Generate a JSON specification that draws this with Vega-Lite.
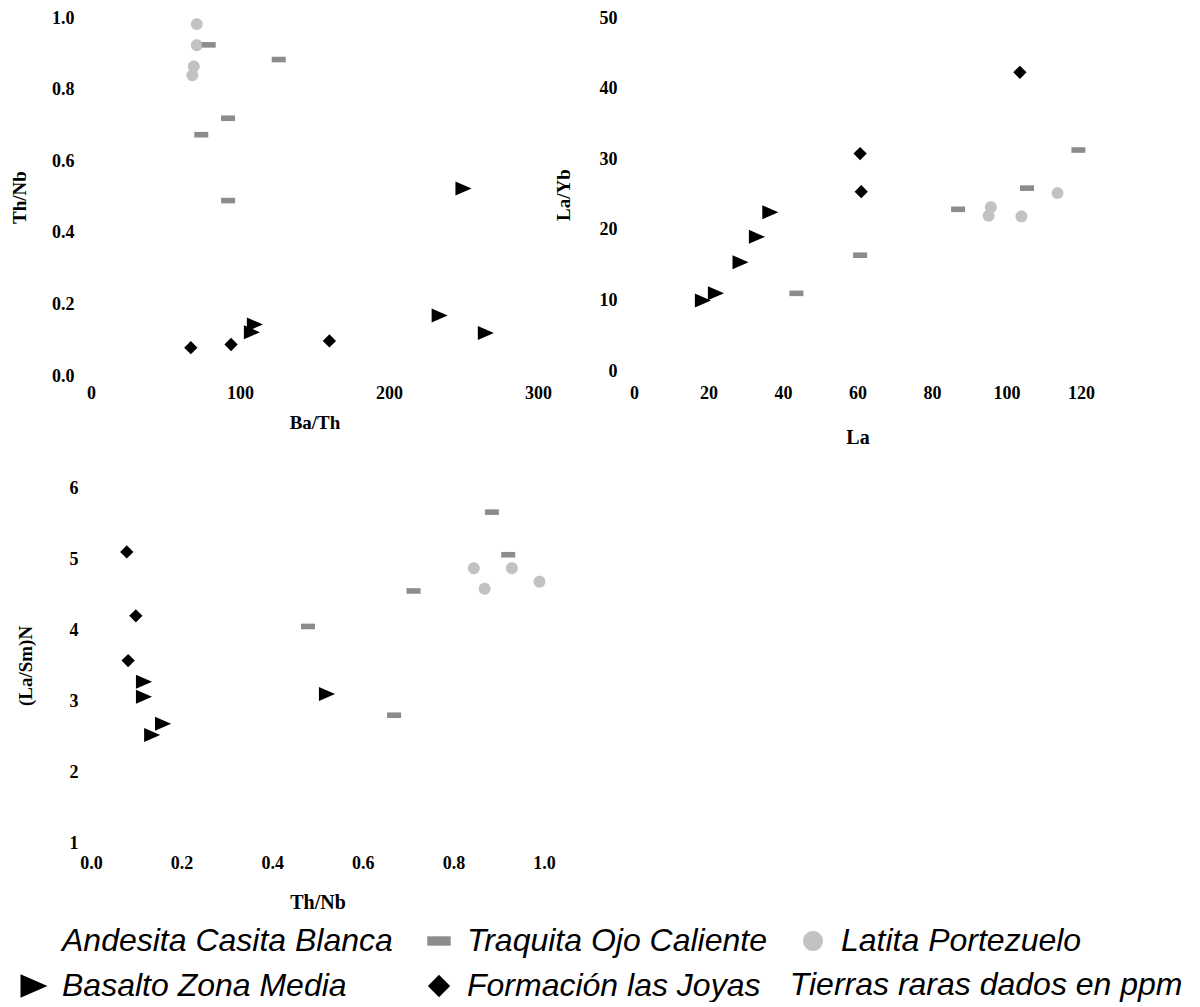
{
  "$schema": "https://vega.github.io/schema/vega-lite/v6.json",
  "padding": {"left": 10, "top": 9, "right": 5, "bottom": 0},
  "background": "white",
  "title": {"text": "Tierras raras dados en ppm", "orient": "bottom", "anchor": "end", "font": "Liberation Sans", "fontStyle": "italic", "fontWeight": "normal", "fontSize": 32, "color": "#000", "offset": 0, "dx": 88, "dy": -32},
  "config": {
    "view": {"stroke": null},
    "axis": {"domain": false, "ticks": false, "grid": false, "labelFlush": false, "labelOverlap": false, "labelFont": "Liberation Serif", "labelFontWeight": "bold", "labelFontSize": 18, "labelColor": "#000", "titleFont": "Liberation Serif", "titleFontWeight": "bold", "titleFontSize": 19, "titleColor": "#000"},
    "legend": {"columns": 3, "direction": "horizontal", "gridAlign": "each", "labelFont": "Liberation Sans", "labelFontStyle": "italic", "labelFontSize": 32, "labelColor": "#000", "labelLimit": 0, "symbolSize": 550, "labelOffset": 12, "columnPadding": 30, "rowPadding": 13, "padding": 0, "symbolStrokeWidth": 0}
  },
  "datasets": {
    "p1": [
      {"series": "Latita Portezuelo", "BaTh": 71, "ThNb": 0.983},
      {"series": "Latita Portezuelo", "BaTh": 71, "ThNb": 0.924},
      {"series": "Latita Portezuelo", "BaTh": 69, "ThNb": 0.865},
      {"series": "Latita Portezuelo", "BaTh": 68, "ThNb": 0.84},
      {"series": "Traquita Ojo Caliente", "BaTh": 79, "ThNb": 0.925},
      {"series": "Traquita Ojo Caliente", "BaTh": 126, "ThNb": 0.884},
      {"series": "Traquita Ojo Caliente", "BaTh": 92, "ThNb": 0.72},
      {"series": "Traquita Ojo Caliente", "BaTh": 74, "ThNb": 0.674},
      {"series": "Traquita Ojo Caliente", "BaTh": 92, "ThNb": 0.49},
      {"series": "Basalto Zona Media", "BaTh": 250, "ThNb": 0.524},
      {"series": "Basalto Zona Media", "BaTh": 234, "ThNb": 0.169},
      {"series": "Basalto Zona Media", "BaTh": 265, "ThNb": 0.12},
      {"series": "Basalto Zona Media", "BaTh": 110, "ThNb": 0.144},
      {"series": "Basalto Zona Media", "BaTh": 108, "ThNb": 0.122},
      {"series": "Formación las Joyas", "BaTh": 67, "ThNb": 0.079},
      {"series": "Formación las Joyas", "BaTh": 94, "ThNb": 0.088},
      {"series": "Formación las Joyas", "BaTh": 160, "ThNb": 0.098}
    ],
    "p2": [
      {"series": "Latita Portezuelo", "La": 95.8, "LaYb": 23.2},
      {"series": "Latita Portezuelo", "La": 95.2, "LaYb": 22.0},
      {"series": "Latita Portezuelo", "La": 104, "LaYb": 21.9},
      {"series": "Latita Portezuelo", "La": 113.7, "LaYb": 25.2},
      {"series": "Traquita Ojo Caliente", "La": 60.7, "LaYb": 16.4},
      {"series": "Traquita Ojo Caliente", "La": 43.6, "LaYb": 11},
      {"series": "Traquita Ojo Caliente", "La": 87, "LaYb": 22.9},
      {"series": "Traquita Ojo Caliente", "La": 105.5, "LaYb": 25.9},
      {"series": "Traquita Ojo Caliente", "La": 119.3, "LaYb": 31.3},
      {"series": "Basalto Zona Media", "La": 36.6, "LaYb": 22.5},
      {"series": "Basalto Zona Media", "La": 33, "LaYb": 19},
      {"series": "Basalto Zona Media", "La": 28.6, "LaYb": 15.4},
      {"series": "Basalto Zona Media", "La": 22, "LaYb": 11},
      {"series": "Basalto Zona Media", "La": 18.5, "LaYb": 10},
      {"series": "Formación las Joyas", "La": 103.6, "LaYb": 42.3},
      {"series": "Formación las Joyas", "La": 60.7, "LaYb": 30.8},
      {"series": "Formación las Joyas", "La": 61, "LaYb": 25.4}
    ],
    "p3": [
      {"series": "Latita Portezuelo", "ThNb": 0.845, "LaSmN": 4.87},
      {"series": "Latita Portezuelo", "ThNb": 0.929, "LaSmN": 4.87},
      {"series": "Latita Portezuelo", "ThNb": 0.869, "LaSmN": 4.58},
      {"series": "Latita Portezuelo", "ThNb": 0.99, "LaSmN": 4.68},
      {"series": "Traquita Ojo Caliente", "ThNb": 0.885, "LaSmN": 5.66},
      {"series": "Traquita Ojo Caliente", "ThNb": 0.921, "LaSmN": 5.06},
      {"series": "Traquita Ojo Caliente", "ThNb": 0.712, "LaSmN": 4.55},
      {"series": "Traquita Ojo Caliente", "ThNb": 0.479, "LaSmN": 4.05},
      {"series": "Traquita Ojo Caliente", "ThNb": 0.669, "LaSmN": 2.8},
      {"series": "Basalto Zona Media", "ThNb": 0.117, "LaSmN": 3.27},
      {"series": "Basalto Zona Media", "ThNb": 0.117, "LaSmN": 3.06},
      {"series": "Basalto Zona Media", "ThNb": 0.159, "LaSmN": 2.68},
      {"series": "Basalto Zona Media", "ThNb": 0.135, "LaSmN": 2.52},
      {"series": "Basalto Zona Media", "ThNb": 0.521, "LaSmN": 3.1},
      {"series": "Formación las Joyas", "ThNb": 0.079, "LaSmN": 5.1},
      {"series": "Formación las Joyas", "ThNb": 0.099, "LaSmN": 4.2},
      {"series": "Formación las Joyas", "ThNb": 0.082, "LaSmN": 3.57}
    ]
  },
  "spacing": 32,
  "vconcat": [
    {
      "spacing": 2,
      "hconcat": [
        {
          "width": 447, "height": 358,
          "data": {"name": "p1"},
          "mark": {"type": "point", "filled": true, "size": 196, "opacity": 1},
          "encoding": {
            "x": {"field": "BaTh", "type": "quantitative", "scale": {"domain": [0, 300], "nice": false}, "axis": {"values": [0, 100, 200, 300], "title": "Ba/Th", "labelPadding": 8, "titlePadding": 11}},
            "y": {"field": "ThNb", "type": "quantitative", "scale": {"domain": [0, 1], "nice": false}, "axis": {"values": [0, 0.2, 0.4, 0.6, 0.8, 1], "format": ".1f", "title": "Th/Nb", "labelPadding": 17, "titlePadding": 22}},
            "color": {"field": "series", "type": "nominal", "scale": {"domain": ["Andesita Casita Blanca", "Traquita Ojo Caliente", "Latita Portezuelo", "Basalto Zona Media", "Formación las Joyas"], "range": ["transparent", "#8c8c8c", "#c2c2c2", "#000000", "#000000"]}, "legend": {"title": null, "orient": "none", "legendX": -73, "legendY": 907}},
            "shape": {"field": "series", "type": "nominal", "scale": {"domain": ["Andesita Casita Blanca", "Traquita Ojo Caliente", "Latita Portezuelo", "Basalto Zona Media", "Formación las Joyas"], "range": ["M0.85,0A0.85,0.85,0,1,1,-0.85,0A0.85,0.85,0,1,1,0.85,0Z", "M-1,-0.4H1V0.4H-1Z", "M0.85,0A0.85,0.85,0,1,1,-0.85,0A0.85,0.85,0,1,1,0.85,0Z", "M-1.15,-1L1.15,0L-1.15,1Z", "M-0.95,0L0,-0.95L0.95,0L0,0.95Z"]}, "legend": {"title": null, "orient": "none", "legendX": -73, "legendY": 907}}
          }
        },
        {
          "width": 447, "height": 353,
          "data": {"name": "p2"},
          "mark": {"type": "point", "filled": true, "size": 196, "opacity": 1},
          "encoding": {
            "x": {"field": "La", "type": "quantitative", "scale": {"domain": [0, 120], "nice": false}, "axis": {"values": [0, 20, 40, 60, 80, 100, 120], "title": "La", "titleFontSize": 20, "labelPadding": 13, "titlePadding": 25}},
            "y": {"field": "LaYb", "type": "quantitative", "scale": {"domain": [0, 50], "nice": false}, "axis": {"values": [0, 10, 20, 30, 40, 50], "title": "La/Yb", "labelPadding": 17, "titlePadding": 26}},
            "color": {"field": "series", "type": "nominal", "scale": {"domain": ["Andesita Casita Blanca", "Traquita Ojo Caliente", "Latita Portezuelo", "Basalto Zona Media", "Formación las Joyas"], "range": ["transparent", "#8c8c8c", "#c2c2c2", "#000000", "#000000"]}, "legend": {"title": null, "orient": "none", "legendX": -73, "legendY": 907}},
            "shape": {"field": "series", "type": "nominal", "scale": {"domain": ["Andesita Casita Blanca", "Traquita Ojo Caliente", "Latita Portezuelo", "Basalto Zona Media", "Formación las Joyas"], "range": ["M0.85,0A0.85,0.85,0,1,1,-0.85,0A0.85,0.85,0,1,1,0.85,0Z", "M-1,-0.4H1V0.4H-1Z", "M0.85,0A0.85,0.85,0,1,1,-0.85,0A0.85,0.85,0,1,1,0.85,0Z", "M-1.15,-1L1.15,0L-1.15,1Z", "M-0.95,0L0,-0.95L0.95,0L0,0.95Z"]}, "legend": {"title": null, "orient": "none", "legendX": -73, "legendY": 907}}
          }
        }
      ]
    },
    {
      "width": 453, "height": 355,
      "data": {"name": "p3"},
      "mark": {"type": "point", "filled": true, "size": 196, "opacity": 1},
      "encoding": {
        "x": {"field": "ThNb", "type": "quantitative", "scale": {"domain": [0, 1], "nice": false}, "axis": {"values": [0, 0.2, 0.4, 0.6, 0.8, 1], "format": ".1f", "title": "Th/Nb", "titleFontSize": 20, "labelPadding": 11, "titlePadding": 20}},
        "y": {"field": "LaSmN", "type": "quantitative", "scale": {"domain": [1, 6], "nice": false}, "axis": {"values": [1, 2, 3, 4, 5, 6], "title": "(La/Sm)N", "labelPadding": 13, "titlePadding": 34}},
        "color": {"field": "series", "type": "nominal", "scale": {"domain": ["Andesita Casita Blanca", "Traquita Ojo Caliente", "Latita Portezuelo", "Basalto Zona Media", "Formación las Joyas"], "range": ["transparent", "#8c8c8c", "#c2c2c2", "#000000", "#000000"]}, "legend": {"title": null, "orient": "none", "legendX": -73, "legendY": 907}},
        "shape": {"field": "series", "type": "nominal", "scale": {"domain": ["Andesita Casita Blanca", "Traquita Ojo Caliente", "Latita Portezuelo", "Basalto Zona Media", "Formación las Joyas"], "range": ["M0.85,0A0.85,0.85,0,1,1,-0.85,0A0.85,0.85,0,1,1,0.85,0Z", "M-1,-0.4H1V0.4H-1Z", "M0.85,0A0.85,0.85,0,1,1,-0.85,0A0.85,0.85,0,1,1,0.85,0Z", "M-1.15,-1L1.15,0L-1.15,1Z", "M-0.95,0L0,-0.95L0.95,0L0,0.95Z"]}, "legend": {"title": null, "orient": "none", "legendX": -73, "legendY": 907}}
      }
    }
  ]
}
